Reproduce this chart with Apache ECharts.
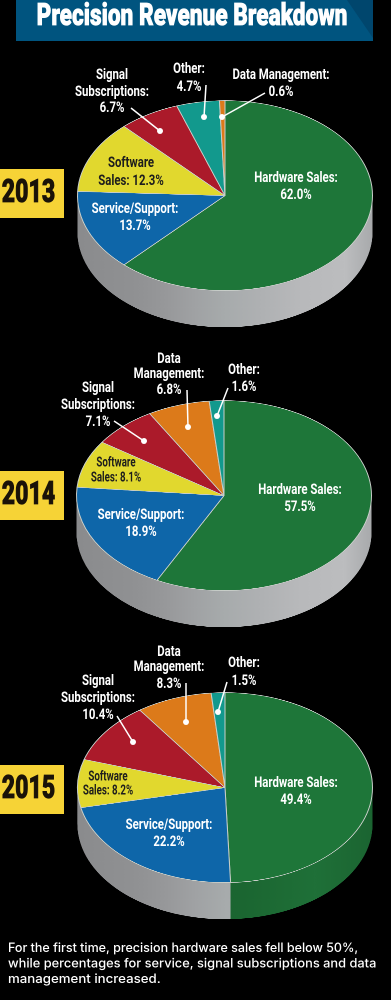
<!DOCTYPE html>
<html>
<head>
<meta charset="utf-8">
<title>Precision Revenue Breakdown</title>
<script src="https://cdn.jsdelivr.net/npm/echarts@6/dist/echarts.min.js"></script>
<style>
html, body { margin: 0; padding: 0; background: #000; }
#page { position: relative; width: 391px; height: 1000px; overflow: hidden; background: #000; }
#overlay { position: absolute; left: 0; top: 0; width: 391px; height: 1000px; z-index: 5; }
.pie { position: absolute; width: 300px; height: 360px; transform-origin: 0 0; }
</style>
</head>
<body>
<div id="page">
  <div id="pie2013" class="pie"></div>
  <div id="pie2014" class="pie"></div>
  <div id="pie2015" class="pie"></div>
  <div id="overlay"></div>
</div>
<script>
// slice order runs clockwise from 12 o'clock
const categories2013 = ['Hardware Sales', 'Service/Support', 'Software Sales', 'Signal Subscriptions', 'Other', 'Data Management'];
const values2013 = [62.0, 13.7, 12.3, 6.7, 4.7, 0.6];
const categories2014 = ['Hardware Sales', 'Service/Support', 'Software Sales', 'Signal Subscriptions', 'Data Management', 'Other'];
const values2014 = [57.5, 18.9, 8.1, 7.1, 6.8, 1.6];
const categories2015 = ['Hardware Sales', 'Service/Support', 'Software Sales', 'Signal Subscriptions', 'Data Management', 'Other'];
const values2015 = [49.4, 22.2, 8.2, 10.4, 8.3, 1.5];

const colors = {
  'Hardware Sales': '#1e7639',
  'Service/Support': '#0e66a9',
  'Software Sales': '#e1d82e',
  'Signal Subscriptions': '#ab1a2a',
  'Other': '#12998d',
  'Data Management': '#dc7a1a'
};

const RX = 147.5;
const SQUASH = 0.644;
const DEPTH = 57; // wall height before the squash

// no narrow face installed, so Roboto gets squeezed with scaleX
const LABEL_FONT = 'Roboto, sans-serif';
const LABEL_SCALE = 0.76;

// facets on the pie wall, same band pattern as the original 3D render
const wallGray = {
  type: 'linear', x: 0, y: 0, x2: 300, y2: 0, global: true,
  colorStops: [
    { offset: 0, color: '#8a8b8d' }, { offset: 0.2, color: '#909193' },
    { offset: 0.3, color: '#97989a' }, { offset: 0.4, color: '#a0a2a4' },
    { offset: 0.5, color: '#a7abac' }, { offset: 0.62, color: '#afb1b3' },
    { offset: 0.75, color: '#b8b9bb' }, { offset: 0.9, color: '#bcbdbf' },
    { offset: 1, color: '#a6a8aa' }
  ]
};
const wallGreen = {
  type: 'linear', x: 0, y: 0, x2: 300, y2: 0, global: true,
  colorStops: [
    { offset: 0, color: '#1a6230' }, { offset: 0.55, color: '#1b6631' },
    { offset: 0.8, color: '#1f7038' }, { offset: 1, color: '#1b6431' }
  ]
};

const pies = [
  { id: 'pie2013', cx: 224.5, cy: 196, cats: categories2013, vals: values2013, greenWall: false },
  { id: 'pie2014', cx: 224, cy: 496, cats: categories2014, vals: values2014, greenWall: false },
  { id: 'pie2015', cx: 224.5, cy: 788, cats: categories2015, vals: values2015, greenWall: true }
];

function drawPie(p) {
  const el = document.getElementById(p.id);
  el.style.left = (p.cx - 150) + 'px';
  el.style.top = (p.cy - 150 * SQUASH) + 'px';
  el.style.transform = 'scaleY(' + SQUASH + ')';

  const series = [];
  // wall = same pie repeated downwards
  for (let k = DEPTH; k >= 1; k--) {
    series.push({
      type: 'pie', silent: true, radius: RX, center: [150, 150 + k], startAngle: 90,
      label: { show: false }, labelLine: { show: false }, animation: false,
      data: p.vals.map((v, i) => ({
        value: v,
        name: p.cats[i],
        itemStyle: { color: (p.greenWall && i === 0) ? wallGreen : wallGray }
      }))
    });
  }
  series.push({
    type: 'pie', silent: true, radius: RX, center: [150, 150], startAngle: 90,
    label: { show: false }, labelLine: { show: false }, animation: false,
    itemStyle: { borderColor: '#c8cec9', borderWidth: 1 },
    data: p.vals.map((v, i) => ({ value: v, name: p.cats[i], itemStyle: { color: colors[p.cats[i]] } }))
  });
  echarts.init(el, null, { devicePixelRatio: 2 }).setOption({ animation: false, series: series });
}
pies.forEach(drawPie);

// label layout, @ is replaced by the slice value
const layout2013 = [
  { cat: 'Hardware Sales', cx: 296, ys: [178, 195], lines: ['Hardware Sales:', '@'] },
  { cat: 'Service/Support', cx: 135, ys: [209, 226], lines: ['Service/Support:', '@'] },
  { cat: 'Software Sales', cx: 131, ys: [163, 181], lines: ['Software', 'Sales: @'], dark: true },
  { cat: 'Signal Subscriptions', cx: 112, ys: [75, 92, 108], lines: ['Signal', 'Subscriptions:', '@'], lead: [131, 108, 160, 131] },
  { cat: 'Other', cx: 189, ys: [69, 87], lines: ['Other:', '@'], lead: [206, 85, 204, 117] },
  { cat: 'Data Management', cx: 281, ys: [75, 92], lines: ['Data Management:', '@'], lead: [265, 93, 222, 117] }
];
const layout2014 = [
  { cat: 'Hardware Sales', cx: 300, ys: [490, 507], lines: ['Hardware Sales:', '@'] },
  { cat: 'Service/Support', cx: 141, ys: [515, 532], lines: ['Service/Support:', '@'] },
  { cat: 'Software Sales', cx: 116, ys: [463, 478], lines: ['Software', 'Sales: @'], dark: true, small: true },
  { cat: 'Signal Subscriptions', cx: 98, ys: [388, 405, 422], lines: ['Signal', 'Subscriptions:', '@'], lead: [114, 421, 144, 441] },
  { cat: 'Data Management', cx: 169, ys: [359, 374, 390], lines: ['Data', 'Management:', '@'], lead: [187, 390, 188, 427] },
  { cat: 'Other', cx: 244, ys: [370, 387], lines: ['Other:', '@'], lead: [228, 388, 217, 416] }
];
const layout2015 = [
  { cat: 'Hardware Sales', cx: 296, ys: [783, 800], lines: ['Hardware Sales:', '@'] },
  { cat: 'Service/Support', cx: 169, ys: [825, 842], lines: ['Service/Support:', '@'] },
  { cat: 'Software Sales', cx: 108, ys: [777, 791], lines: ['Software', 'Sales: @'], dark: true, small: true },
  { cat: 'Signal Subscriptions', cx: 98, ys: [681, 698, 715], lines: ['Signal', 'Subscriptions:', '@'], lead: [117, 716, 133, 742] },
  { cat: 'Data Management', cx: 169, ys: [652, 667, 684], lines: ['Data', 'Management:', '@'], lead: [186, 683, 186, 722] },
  { cat: 'Other', cx: 244, ys: [663, 681], lines: ['Other:', '@'], lead: [227, 682, 218, 712] }
];

const elements = [];

function text(str, x, y, font, fill, scale, stroke) {
  const style = { text: str, font: font, fill: fill, textAlign: 'center', textVerticalAlign: 'middle' };
  if (stroke) {
    style.stroke = fill;
    style.lineWidth = stroke;
  }
  elements.push({ type: 'text', x: x, y: y, scaleX: scale, z: 10, style: style });
}

function addLabels(layout, cats, vals) {
  layout.forEach(l => {
    const v = vals[cats.indexOf(l.cat)].toFixed(1) + '%';
    const color = l.dark ? '#1d1d1d' : '#fff';
    const font = (l.small ? 'bold 13.5px ' : 'bold 15px ') + LABEL_FONT;
    const scale = l.small ? 0.72 : LABEL_SCALE;
    l.lines.forEach((line, i) => {
      text(line.replace('@', v), l.cx, l.ys[i], font, color, scale);
    });
    if (l.lead) {
      elements.push({
        type: 'line', z: 9,
        shape: { x1: l.lead[0], y1: l.lead[1], x2: l.lead[2], y2: l.lead[3] },
        style: { stroke: '#fff', lineWidth: 1.5 }
      });
      elements.push({
        type: 'circle', z: 9,
        shape: { cx: l.lead[2], cy: l.lead[3], r: 3 },
        style: { fill: '#fff' }
      });
    }
  });
}

// title banner
elements.push({ type: 'rect', z: 1, shape: { x: 16, y: 0, width: 357, height: 41 }, style: { fill: '#00547f' } });
elements.push({
  type: 'polygon', z: 2,
  shape: { points: [[347, 0], [373, 0], [373, 38]] },
  style: { fill: '#00466d' }
});
text('Precision Revenue Breakdown', 192, 17, '900 31px ' + LABEL_FONT, '#fff', 0.73, 0.8);

// year tags
[['2013', 169], ['2014', 471], ['2015', 765]].forEach(t => {
  elements.push({ type: 'rect', z: 1, shape: { x: 0, y: t[1], width: 64, height: 49 }, style: { fill: '#f6d336' } });
  text(t[0], 28.5, t[1] + 25, '900 32px ' + LABEL_FONT, '#1a1208', 0.72, 0.8);
});

addLabels(layout2013, categories2013, values2013);
addLabels(layout2014, categories2014, values2014);
addLabels(layout2015, categories2015, values2015);

// footnote
const noteLines = [
  'For the first time, precision hardware sales fell below 50%,',
  'while percentages for service, signal subscriptions and data',
  'management increased.'
];
const noteScale = [1, 1.025, 1.06];
noteLines.forEach((line, i) => {
  elements.push({
    type: 'text', x: 8, y: 948 + i * 15.5, scaleX: noteScale[i], z: 10,
    style: { text: line, font: '500 12.5px Inter, "Open Sans", sans-serif', fill: '#fff', textAlign: 'left', textVerticalAlign: 'middle' }
  });
});

echarts.init(document.getElementById('overlay'), null, { devicePixelRatio: 2 }).setOption({
  animation: false,
  backgroundColor: 'transparent',
  graphic: { elements: elements }
});
</script>
</body>
</html>
